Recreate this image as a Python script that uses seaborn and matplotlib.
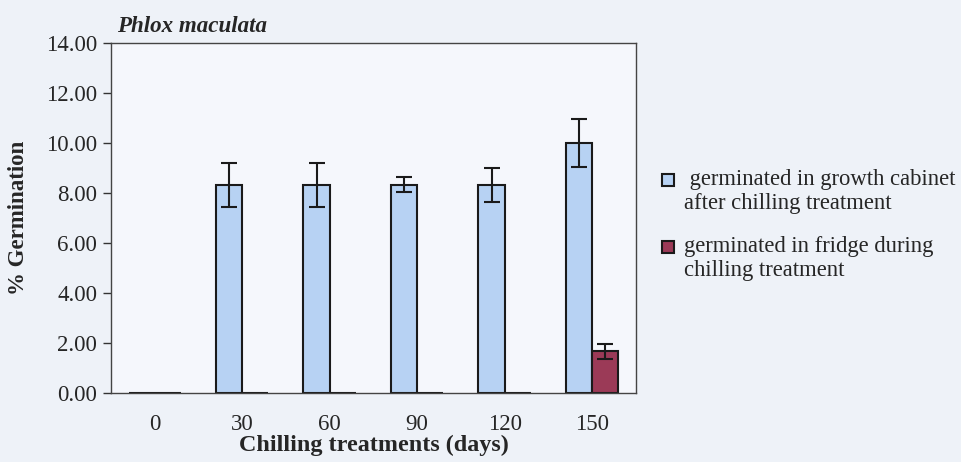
import pandas as pd
import seaborn as sns
import matplotlib.pyplot as plt
import matplotlib.patches as mpatches
from matplotlib.legend_handler import HandlerPatch

# chilling treatment vs germination, Phlox maculata
days = ["0", "30", "60", "90", "120", "150"]
cabinet = [0.0, 8.33, 8.33, 8.33, 8.33, 10.0]
cabinet_err = [0.0, 0.88, 0.88, 0.30, 0.68, 0.95]
fridge = [0.0, 0.0, 0.0, 0.0, 0.0, 1.67]
fridge_err = [0.0, 0.0, 0.0, 0.0, 0.0, 0.30]
labels = [" germinated in growth cabinet\nafter chilling treatment",
          "germinated in fridge during\nchilling treatment"]
colors = ["#b7d2f3", "#9b3a57"]

df = pd.DataFrame({
    "days": days * 2,
    "value": cabinet + fridge,
    "err": cabinet_err + fridge_err,
    "group": [labels[0]] * len(days) + [labels[1]] * len(days),
})

sns.set_style("white")
plt.rcParams["font.family"] = ["Liberation Serif", "DejaVu Serif"]

fig = plt.figure(figsize=(9.62, 4.62), dpi=100, facecolor="#eef2f8")
ax = fig.add_axes([0.1154, 0.149, 0.5456, 0.758])
ax.set_facecolor("#f5f7fc")

sns.barplot(data=df, x="days", y="value", hue="group", order=days,
            hue_order=labels, palette=colors, saturation=1, width=0.6,
            errorbar=None, edgecolor="#1a1a1a", linewidth=1.5, ax=ax)

# error bars on top of each patch (skip the zero bars)
errs = cabinet_err + fridge_err
for p, e in zip(ax.patches[:len(errs)], errs):
    if e > 0:
        ax.errorbar(p.get_x() + p.get_width() / 2, p.get_height(), yerr=e,
                    fmt="none", ecolor="#1a1a1a", elinewidth=1.5,
                    capsize=6, capthick=1.5)

ax.set_ylim(0, 14)
ax.set_xlim(-0.5, 5.5)
ax.set_yticks([0, 2, 4, 6, 8, 10, 12, 14])
ax.set_yticklabels([f"{v:.2f}" for v in ax.get_yticks()], fontsize=16.5)
ax.set_xticks(range(len(days)))
ax.set_xticklabels(days, fontsize=16.5)
ax.set_xticks([i - 0.5 for i in range(len(days) + 1)], minor=True)
ax.tick_params(axis="x", which="major", length=0, pad=15)
ax.tick_params(axis="x", which="minor", length=6, width=1, direction="out",
               color="#333333")
ax.tick_params(axis="y", length=6, width=1, direction="out", color="#333333",
               left=True, pad=4)
for s in ax.spines.values():
    s.set_color("#444444")
    s.set_linewidth(1)

ax.set_xlabel("Chilling treatments (days)", fontsize=17.4, fontweight="bold",
              labelpad=0)
ax.set_ylabel("% Germination", fontsize=16.5, fontweight="bold", labelpad=12)
ax.set_title("Phlox maculata", fontsize=16.6, fontweight="bold",
             fontstyle="italic", loc="left", x=0.012, pad=8)


def small_square(legend, orig_handle, xdescent, ydescent, width, height, fontsize):
    # square centred in the (taller) handle box
    side = width
    return mpatches.Rectangle((-xdescent, -ydescent + (height - side) / 2),
                              side, side)


handles, labs = ax.get_legend_handles_labels()
leg = ax.legend(handles, labs, loc="center left", bbox_to_anchor=(1.05, 0.48),
                frameon=False, fontsize=16.3, handlelength=0.52,
                handleheight=1.15, handletextpad=0.45, labelspacing=0.95,
                borderaxespad=0, borderpad=0,
                handler_map={mpatches.Rectangle: HandlerPatch(patch_func=small_square)})
# put the square next to the first line of each label
for col in leg._legend_handle_box.get_children():
    for row in col.get_children():
        row.align = "top"

fig.savefig("out.png", dpi=100, facecolor=fig.get_facecolor())
